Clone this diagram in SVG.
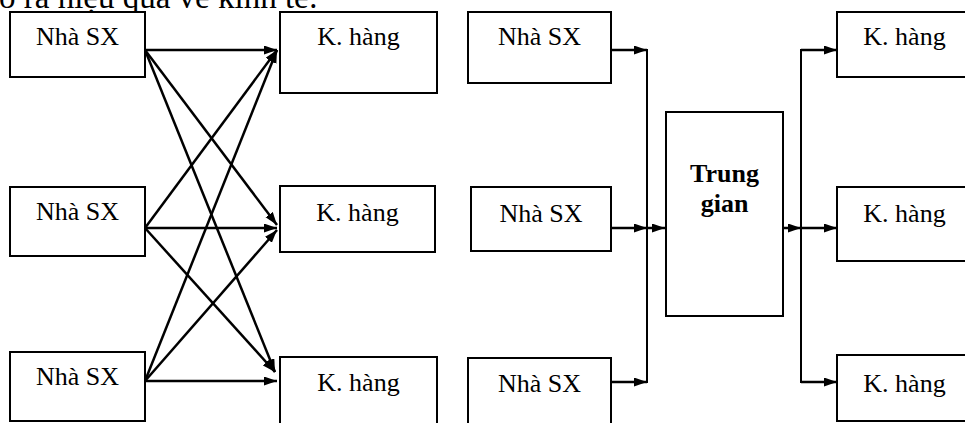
<svg xmlns="http://www.w3.org/2000/svg" width="965" height="423" viewBox="0 0 965 423">
<style>
.box{fill:#fff;stroke:#000;stroke-width:2}
.t{font-family:"Liberation Serif","Times New Roman",serif;font-size:26px;fill:#000;text-anchor:middle}
.b{font-weight:bold}
.c{fill:none;stroke:#000;stroke-width:2.5}
.v{fill:none;stroke:#000;stroke-width:2}
</style>
<defs>
<marker id="ah" markerUnits="userSpaceOnUse" markerWidth="14" markerHeight="10" refX="13" refY="4.5" orient="auto" viewBox="0 0 14 10">
<path d="M0,0 L13,4.5 L0,9 z" fill="#000"/>
</marker>
</defs>
<rect width="965" height="423" fill="#fff"/>
<text x="-1" y="8" style="font-family:'Liberation Serif','Times New Roman',serif;font-size:33px">o ra hiệu quả về kinh tế:</text>
<g id="connectors">
<line class="c" x1="145" y1="50" x2="277" y2="50" marker-end="url(#ah)"/>
<line class="c" x1="145" y1="50" x2="277" y2="225" marker-end="url(#ah)"/>
<line class="c" x1="145" y1="50" x2="275" y2="372" marker-end="url(#ah)"/>
<line class="c" x1="145" y1="228" x2="277" y2="50" marker-end="url(#ah)"/>
<line class="c" x1="145" y1="228" x2="277" y2="228" marker-end="url(#ah)"/>
<line class="c" x1="145" y1="228" x2="275" y2="372" marker-end="url(#ah)"/>
<line class="c" x1="145" y1="381" x2="277" y2="50" marker-end="url(#ah)"/>
<line class="c" x1="145" y1="381" x2="277" y2="230" marker-end="url(#ah)"/>
<line class="c" x1="145" y1="381" x2="277" y2="381" marker-end="url(#ah)"/>
<line class="c" x1="608" y1="50" x2="647" y2="50" marker-end="url(#ah)"/>
<line class="c" x1="608" y1="228" x2="647" y2="228" marker-end="url(#ah)"/>
<line class="c" x1="608" y1="382" x2="647" y2="382" marker-end="url(#ah)"/>
<line class="v" x1="647" y1="49" x2="647" y2="383"/>
<line class="c" x1="647" y1="228" x2="665" y2="228" marker-end="url(#ah)"/>
<line class="c" x1="783" y1="228" x2="801" y2="228" marker-end="url(#ah)"/>
<line class="v" x1="801" y1="49" x2="801" y2="383"/>
<line class="c" x1="801" y1="50" x2="837" y2="50" marker-end="url(#ah)"/>
<line class="c" x1="801" y1="228" x2="837" y2="228" marker-end="url(#ah)"/>
<line class="c" x1="801" y1="382" x2="837" y2="382" marker-end="url(#ah)"/>
</g>
<g id="sx1"><rect class="box" x="10" y="12" width="135" height="65"/><text class="t" x="77.5" y="45">Nhà SX</text></g>
<g id="sx2"><rect class="box" x="10" y="187" width="135" height="69"/><text class="t" x="77.5" y="220">Nhà SX</text></g>
<g id="sx3"><rect class="box" x="10" y="352" width="135" height="69"/><text class="t" x="77.5" y="385">Nhà SX</text></g>
<g id="kh1"><rect class="box" x="280" y="12" width="157" height="81"/><text class="t" x="358.5" y="45">K. hàng</text></g>
<g id="kh2"><rect class="box" x="280" y="186" width="155" height="66"/><text class="t" x="357.5" y="221">K. hàng</text></g>
<g id="kh3"><rect class="box" x="280" y="357" width="157" height="80"/><text class="t" x="358.5" y="391">K. hàng</text></g>
<g id="sx4"><rect class="box" x="468" y="12" width="143" height="71"/><text class="t" x="539.5" y="45">Nhà SX</text></g>
<g id="sx5"><rect class="box" x="471" y="187" width="140" height="64"/><text class="t" x="541" y="222">Nhà SX</text></g>
<g id="sx6"><rect class="box" x="468" y="358" width="143" height="80"/><text class="t" x="539.5" y="392">Nhà SX</text></g>
<g id="tg"><rect class="box" x="666" y="112" width="117" height="204"/><text class="t b" x="724.5" y="182">Trung</text><text class="t b" x="724.5" y="212">gian</text></g>
<g id="kh4"><rect class="box" x="837" y="12" width="136" height="65"/><text class="t" x="904.5" y="45">K. hàng</text></g>
<g id="kh5"><rect class="box" x="837" y="187" width="136" height="74"/><text class="t" x="904.5" y="222">K. hàng</text></g>
<g id="kh6"><rect class="box" x="837" y="355" width="136" height="66"/><text class="t" x="904.5" y="392">K. hàng</text></g>
</svg>
